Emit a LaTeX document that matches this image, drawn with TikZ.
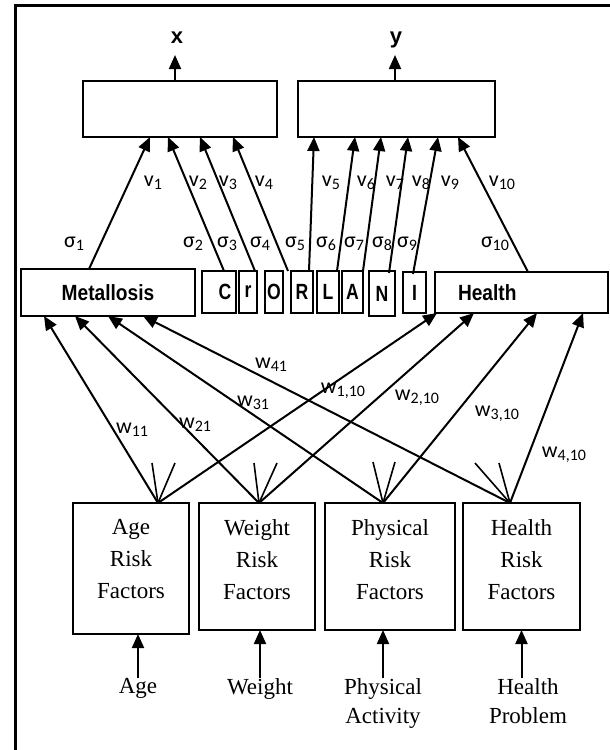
\documentclass[tikz,border=0pt]{standalone}
\usepackage{fontspec}
\usepackage{graphicx}
\setmainfont{Liberation Serif}
\newfontfamily\calfont{Carlito}
\newfontfamily\arialfont{Liberation Sans}
\usetikzlibrary{arrows.meta}

% weight label with a lowered subscript
\newcommand\sbs[2]{#1\raisebox{-3.5pt}{\fontsize{16}{16}\selectfont #2}}
% horizontally condensed text
\newcommand\narrow[2]{\scalebox{#1}[1]{#2}}

\tikzset{
  box/.style={draw, line width=1.8pt, inner sep=0pt, outer sep=0pt, anchor=north west},
  conn/.style={line width=2pt, -{Triangle[length=14pt,width=12pt]}},
  tick/.style={line width=1.6pt},
  wt/.style={font=\calfont\fontsize{22}{22}\selectfont, inner sep=0pt, anchor=base},
  bold/.style={font=\arialfont\bfseries\fontsize{22}{22}\selectfont},
  serif/.style={font=\fontsize{23}{32}\selectfont, align=center, inner sep=0pt},
}

\begin{document}
\begin{tikzpicture}[x=1pt,y=-1pt]
\useasboundingbox (0,0) rectangle (610,750);
\fill[white] (0,0) rectangle (610,750);

% outer frame
\draw[line width=2.2pt] (15.5,750) -- (15.5,5.5) -- (610,5.5);

% output layer
\node[box, minimum width=194pt, minimum height=56pt] (bx) at (83,81) {};
\node[box, minimum width=197pt, minimum height=56pt] (by) at (298,81) {};
\node[bold, anchor=base, inner sep=0pt] (xo) at (177,43) {x};
\node[bold, anchor=base, inner sep=0pt] (yo) at (396,43) {y};
\draw[conn] ([xshift=92pt]bx.north west) -- ++(0,-26);
\draw[conn] ([xshift=97pt]by.north west) -- ++(0,-26);

% hidden layer
\node[box, bold, minimum width=174pt, minimum height=47pt] (met) at (21,269) {\narrow{0.87}{Metallosis}};
\node[box, bold, minimum width=34pt, minimum height=42pt] (c) at (202,271) {\hspace*{12pt}\narrow{0.8}{C}};
\node[box, bold, minimum width=18pt, minimum height=42pt] (r) at (239,271) {\narrow{0.8}{r}};
\node[box, bold, minimum width=18pt, minimum height=42pt] (o) at (265,271) {\narrow{0.8}{O}};
\node[box, bold, minimum width=22pt, minimum height=42pt] (rr) at (291,271) {\narrow{0.8}{R}};
\node[box, bold, minimum width=22pt, minimum height=42pt] (l) at (317,271) {\narrow{0.8}{L}};
\node[box, bold, minimum width=21pt, minimum height=42pt] (a) at (342,271) {\narrow{0.8}{A}};
\node[box, bold, minimum width=26pt, minimum height=45pt] (n) at (369,271) {\narrow{0.8}{N}};
\node[box, bold, minimum width=23pt, minimum height=41pt] (i) at (403,272) {\narrow{0.8}{I}};
\node[box, bold, minimum width=173pt, minimum height=41pt, text width=127pt, align=left, inner xsep=23pt] (hlt) at (435,272) {\narrow{0.87}{Health}};

% hidden -> output connectors
\draw[conn] ([xshift=68pt]met.north west) -- ([xshift=67pt]bx.south west);
\draw[conn] ([xshift=22pt]c.north west) -- ([xshift=85pt]bx.south west);
\draw[conn] ([xshift=16pt]r.north west) -- ([xshift=117pt]bx.south west);
\draw[conn] ([xshift=5pt]o.north east) -- ([xshift=150pt]bx.south west);
\draw[conn] ([xshift=18pt]rr.north west) -- ([xshift=16pt]by.south west);
\draw[conn] ([xshift=20pt]l.north west) -- ([xshift=57pt]by.south west);
\draw[conn] (a.north east) -- ([xshift=83pt]by.south west);
\draw[conn] ([xshift=20pt,yshift=-2pt]n.north west) -- ([xshift=110pt]by.south west);
\draw[conn] ([xshift=10pt,yshift=-2pt]i.north west) -- ([xshift=140pt]by.south west);
\draw[conn] ([xshift=93pt]hlt.north west) -- ([xshift=160pt]by.south west);

% v weights
\node[wt] (lv1) at (153,186) {\sbs{v}{1}};
\node[wt] (lv2) at (198,186) {\sbs{v}{2}};
\node[wt] (lv3) at (228,186) {\sbs{v}{3}};
\node[wt] (lv4) at (264,186) {\sbs{v}{4}};
\node[wt] (lv5) at (331,186) {\sbs{v}{5}};
\node[wt] (lv6) at (366,186) {\sbs{v}{6}};
\node[wt] (lv7) at (395,186) {\sbs{v}{7}};
\node[wt] (lv8) at (421,186) {\sbs{v}{8}};
\node[wt] (lv9) at (450,186) {\sbs{v}{9}};
\node[wt] (lv10) at (502,186) {\sbs{v}{10}};

% sigma labels
\node[wt] (ls1) at (74,247) {\sbs{σ}{1}};
\node[wt] (ls2) at (193,247) {\sbs{σ}{2}};
\node[wt] (ls3) at (227,247) {\sbs{σ}{3}};
\node[wt] (ls4) at (260,247) {\sbs{σ}{4}};
\node[wt] (ls5) at (295,247) {\sbs{σ}{5}};
\node[wt] (ls6) at (326,247) {\sbs{σ}{6}};
\node[wt] (ls7) at (354,247) {\sbs{σ}{7}};
\node[wt] (ls8) at (382,247) {\sbs{σ}{8}};
\node[wt] (ls9) at (407,247) {\sbs{σ}{9}};
\node[wt] (ls10) at (495,247) {\sbs{σ}{10}};

% input layer
\node[box, minimum width=116pt, minimum height=131pt] (ageb) at (73,503) {};
\node[box, minimum width=116pt, minimum height=127pt] (weib) at (199,503) {};
\node[box, minimum width=130pt, minimum height=127pt] (phyb) at (325,503) {};
\node[box, minimum width=117pt, minimum height=127pt] (heab) at (463,503) {};
\node[serif, anchor=north] (aget) at ([yshift=-16pt]ageb.north) {Age\\Risk\\Factors};
\node[serif, anchor=north] (weit) at ([yshift=-16pt]weib.north) {Weight\\Risk\\Factors};
\node[serif, anchor=north] (phyt) at ([yshift=-16pt]phyb.north) {Physical\\Risk\\Factors};
\node[serif, anchor=north] (heat) at ([yshift=-16pt]heab.north) {Health\\Risk\\Factors};

% raw inputs
\node[serif, anchor=north] (agei) at (138,678) {Age};
\node[serif, anchor=north] (weii) at (260,678) {Weight};
\node[serif, anchor=north, font=\fontsize{23}{29}\selectfont] (phyi) at (383,678) {Physical\\Activity};
\node[serif, anchor=north, font=\fontsize{23}{29}\selectfont] (heai) at (528,678) {Health\\Problem};
\draw[conn] (agei.north) -- (agei.north |- ageb.south);
\draw[conn] (weii.north) -- (weii.north |- weib.south);
\draw[conn] (phyi.north) -- (phyi.north |- phyb.south);
\draw[conn] (heai.north -| heab.south) -- (heab.south);

% fan points on the input boxes
\coordinate (af) at ([xshift=85pt]ageb.north west);
\coordinate (wf) at ([xshift=60pt]weib.north west);
\coordinate (pf) at ([xshift=58pt]phyb.north west);
\coordinate (hf) at ([xshift=47pt]heab.north west);

% input -> hidden connectors
\draw[conn] (af) -- ([xshift=23pt]met.south west);
\draw[conn] (wf) -- ([xshift=54pt]met.south west);
\draw[conn] (pf) -- ([xshift=87pt]met.south west);
\draw[conn] (hf) -- ([xshift=122pt]met.south west);
\draw[conn] (af) -- ([xshift=2pt]hlt.south west);
\draw[conn] (wf) -- ([xshift=39pt]hlt.south west);
\draw[conn] (pf) -- ([xshift=102pt]hlt.south west);
\draw[conn] (hf) -- ([xshift=148pt]hlt.south west);

% short strokes at the fan points
\draw[tick] (af) -- ++(-6,-40);  \draw[tick] (af) -- ++(17,-40);
\draw[tick] (wf) -- ++(-5,-40);  \draw[tick] (wf) -- ++(18,-40);
\draw[tick] (pf) -- ++(-10,-41); \draw[tick] (pf) -- ++(12,-41);
\draw[tick] (hf) -- ++(-35,-40); \draw[tick] (hf) -- ++(-11,-40);

% w weights
\node[wt] (lw41) at (271,368) {\sbs{w}{41}};
\node[wt] (lw110) at (343,393) {\sbs{w}{1,10}};
\node[wt] (lw210) at (417,400) {\sbs{w}{2,10}};
\node[wt] (lw31) at (253,406) {\sbs{w}{31}};
\node[wt] (lw310) at (497,416) {\sbs{w}{3,10}};
\node[wt] (lw11) at (132,433) {\sbs{w}{11}};
\node[wt] (lw21) at (195,428) {\sbs{w}{21}};
\node[wt] (lw410) at (564,457) {\sbs{w}{4,10}};
\end{tikzpicture}
\end{document}
